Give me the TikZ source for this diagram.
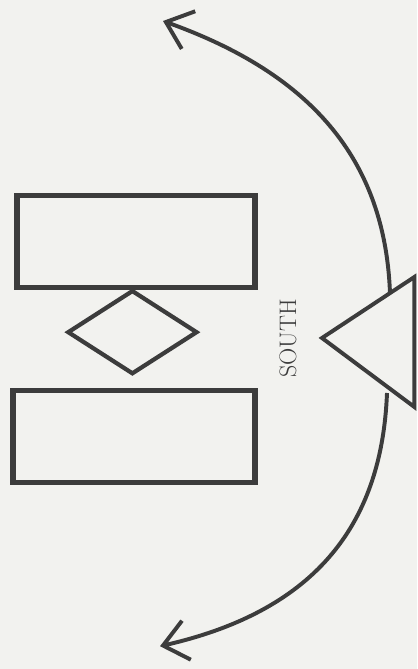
\documentclass[tikz,border=0pt]{standalone}
\usepackage{tikz}
\usetikzlibrary{positioning, arrows.meta, shapes.geometric}

\definecolor{paper}{RGB}{242,242,239}
\definecolor{ink}{RGB}{60,60,60}

\begin{document}
\begin{tikzpicture}[
  panel/.style={draw=ink, line width=3.8pt, minimum width=5.95cm, minimum height=2.3cm, inner sep=0pt},
  gate/.style={draw=ink, line width=3pt, diamond, minimum width=3.25cm, minimum height=2.1cm, inner sep=0pt},
  post/.style={draw=ink, line width=2.8pt, line join=miter},
  swing/.style={draw=ink, line width=2.8pt,
    -{Straight Barb[length=6mm 0, width=10mm 0, line width=2.8pt]}}
]

% paper and page size
\fill[paper] (0,0) rectangle (10.425,16.725);
\useasboundingbox (0,0) rectangle (10.425,16.725);

% two panels with the gate between them
\node[panel] (upper) at (3.4,10.69) {};
\node[panel, minimum width=6.05cm] (lower) at (3.35,5.81) {};
\node[gate] (gate) at (3.31,8.42) {};

% post (triangle) and label
\coordinate (apex) at (8.05,8.275);
\coordinate (postup) at (10.36,9.8);
\coordinate (postlow) at (10.36,6.55);
\draw[post] (apex) -- (postup) -- (postlow) -- cycle;
\node[rotate=90, font=\fontsize{17}{20}\selectfont, text=ink] (south) at (7.2,8.27) {SOUTH};

% swing arcs
\coordinate (upfrom) at (9.75,9.38);
\coordinate (upto) at (4.075,16.2);
\coordinate (lowfrom) at (9.675,6.9);
\coordinate (lowto) at (4.0,0.57);
\draw[swing] (upfrom) .. controls (9.625,12.975) and (7.5,14.975) .. (upto);
\draw[swing] (lowfrom) .. controls (9.55,3.725) and (8.0,1.475) .. (lowto);

\end{tikzpicture}
\end{document}
